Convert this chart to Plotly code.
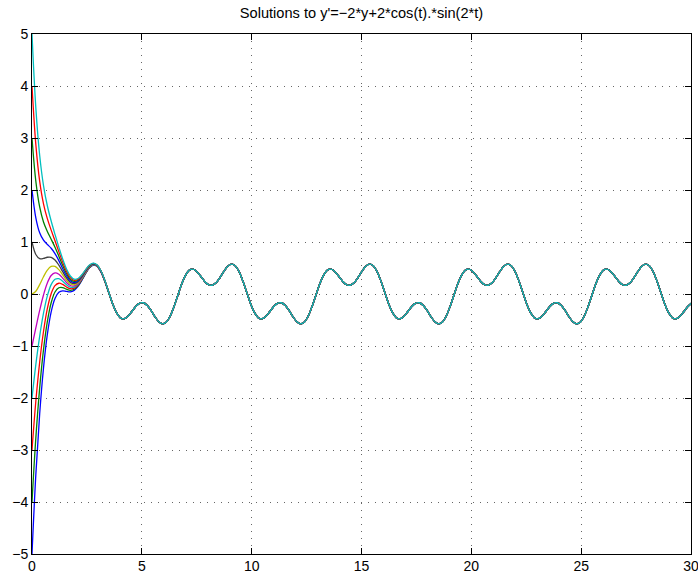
import plotly.graph_objects as go

# ---------------- data ----------------
t_step = 0.174533          # sampling step of the curves
t_end = 30.0

initial_values = [-5, -4, -3, -2, -1, 0, 1, 2, 3, 4, 5]
colors = ["#0000ff", "#008000", "#ff0000", "#00bfbf", "#bf00bf",
          "#bfbf00", "#404040", "#0000ff", "#008000", "#ff0000", "#00bfbf"]

# early part of each curve (first 21 samples), keyed by initial value
early_m5 = [-5.0, -3.473, -2.307, -1.423, -0.778, -0.343, -0.086, 0.034, 0.061, 0.049, 0.041,
            0.069, 0.146, 0.263, 0.394, 0.503, 0.556, 0.531, 0.422, 0.244, 0.029]
early_m4 = [-4.0, -2.768, -1.809, -1.072, -0.531, -0.169, 0.038, 0.120, 0.123, 0.092, 0.071,
            0.091, 0.162, 0.274, 0.401, 0.508, 0.560, 0.534, 0.424, 0.246, 0.030]
early_m3 = [-3.0, -2.063, -1.312, -0.721, -0.283, 0.006, 0.161, 0.207, 0.184, 0.135, 0.102,
            0.112, 0.177, 0.285, 0.409, 0.513, 0.564, 0.536, 0.426, 0.247, 0.031]
early_m2 = [-2.0, -1.357, -0.814, -0.370, -0.036, 0.181, 0.284, 0.294, 0.245, 0.178, 0.132,
            0.134, 0.192, 0.295, 0.416, 0.519, 0.567, 0.539, 0.428, 0.248, 0.032]
early_m1 = [-1.0, -0.652, -0.316, -0.019, 0.212, 0.355, 0.407, 0.381, 0.306, 0.222, 0.163,
            0.155, 0.207, 0.306, 0.424, 0.524, 0.571, 0.542, 0.430, 0.250, 0.033]
early_0 = [0.0, 0.053, 0.181, 0.332, 0.459, 0.530, 0.530, 0.468, 0.368, 0.265, 0.193,
           0.177, 0.222, 0.317, 0.431, 0.529, 0.575, 0.544, 0.432, 0.251, 0.034]
early_p1 = [1.0, 0.759, 0.679, 0.683, 0.707, 0.704, 0.653, 0.555, 0.429, 0.308, 0.224,
            0.198, 0.237, 0.327, 0.439, 0.535, 0.579, 0.547, 0.433, 0.252, 0.035]
early_p2 = [2.0, 1.464, 1.176, 1.034, 0.954, 0.879, 0.777, 0.642, 0.490, 0.351, 0.254,
            0.220, 0.252, 0.338, 0.447, 0.540, 0.582, 0.550, 0.435, 0.254, 0.036]
early_p3 = [3.0, 2.169, 1.674, 1.385, 1.202, 1.054, 0.900, 0.728, 0.552, 0.394, 0.285,
            0.241, 0.268, 0.349, 0.454, 0.545, 0.586, 0.552, 0.437, 0.255, 0.036]
early_p4 = [4.0, 2.875, 2.171, 1.735, 1.449, 1.228, 1.023, 0.815, 0.613, 0.438, 0.315,
            0.263, 0.283, 0.359, 0.462, 0.551, 0.590, 0.555, 0.439, 0.256, 0.037]
early_p5 = [5.0, 3.580, 2.669, 2.086, 1.697, 1.403, 1.146, 0.902, 0.674, 0.481, 0.346,
            0.284, 0.298, 0.370, 0.469, 0.556, 0.594, 0.558, 0.441, 0.258, 0.038]

# common periodic part that every curve settles onto (one period, 36 samples)
steady_period = [-0.431, -0.250, -0.033, 0.181, 0.353, 0.455, 0.477, 0.430, 0.341,
                 0.246, 0.180, 0.168, 0.216, 0.312, 0.428, 0.527, 0.573, 0.543,
                 0.431, 0.250, 0.033, -0.181, -0.353, -0.455, -0.477, -0.430, -0.341,
                 -0.246, -0.180, -0.168, -0.216, -0.312, -0.428, -0.527, -0.573, -0.543]

x_ticks = [0, 5, 10, 15, 20, 25, 30]
y_ticks = [-5, -4, -3, -2, -1, 0, 1, 2, 3, 4, 5]
title_text = "Solutions to y'=\u22122*y+2*cos(t).*sin(2*t)"

# ---------------- build curves ----------------
early_curves = [early_m5, early_m4, early_m3, early_m2, early_m1, early_0,
                early_p1, early_p2, early_p3, early_p4, early_p5]
n_total = int(t_end / t_step) + 2
t_values = [k * t_step for k in range(n_total)]

fig = go.Figure()
for y0, col, early in zip(initial_values, colors, early_curves):
    ys = list(early) + [steady_period[k % 36] for k in range(len(early), n_total)]
    fig.add_trace(go.Scatter(
        x=t_values, y=ys, mode="lines", name=str(y0),
        line=dict(color=col, width=1.3, shape="spline", smoothing=1.0),
        showlegend=False, hoverinfo="skip"))

FONT = "Liberation Sans, Arial, sans-serif"
axis_common = dict(
    showline=True, linecolor="black", linewidth=1, mirror="allticks",
    ticks="inside", ticklen=6, tickcolor="black", tickwidth=1,
    showgrid=True, gridcolor="#666666", gridwidth=1, griddash="1px,6px",
    zeroline=False, automargin=False, ticklabeloverflow="allow",
    tickfont=dict(family=FONT, size=14, color="black"),
)

fig.update_layout(
    width=698, height=573,
    margin=dict(l=32, r=7, t=34, b=19),
    paper_bgcolor="white", plot_bgcolor="white",
    title=dict(text=title_text, x=0.5, xref="paper", xanchor="center",
               y=1 - 13 / 573, yref="container", yanchor="middle",
               font=dict(family=FONT, size=14.6, color="black")),
    xaxis=dict(range=[0, 30], tickvals=x_ticks, ticktext=[str(v) for v in x_ticks],
               ticklabelstandoff=-1, **axis_common),
    yaxis=dict(range=[-5, 5], tickvals=y_ticks, ticklabelstandoff=0, **axis_common),
)

fig.write_html("out.html", config={"displayModeBar": False},
               post_script="document.body.style.margin='0';document.body.style.overflow='hidden';")
